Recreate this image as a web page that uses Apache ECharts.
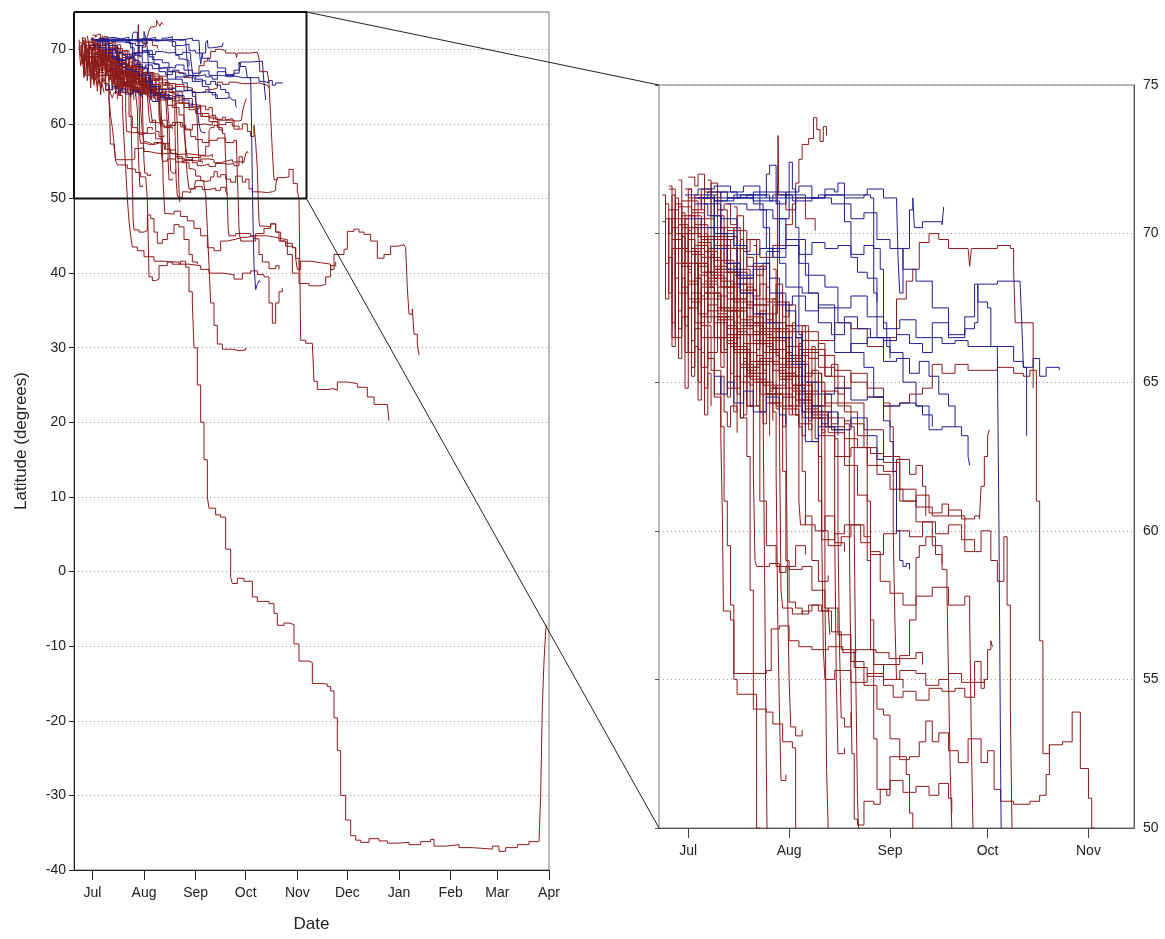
<!DOCTYPE html>
<html>
<head>
<meta charset="utf-8">
<title>Latitude tracks</title>
<script src="https://cdn.jsdelivr.net/npm/echarts@6.0.0/dist/echarts.min.js"></script>
<style>
  html, body { margin: 0; padding: 0; background: #fff; }
  #chart { width: 1165px; height: 939px; }
</style>
</head>
<body>
<div id="chart"></div>
<script>
// day 0 = 1 July; every track is a list of [day, latitude]
const MONTHS = ["Jan", "Feb", "Mar", "Apr", "May", "Jun", "Jul", "Aug", "Sep", "Oct", "Nov", "Dec"];
const BASE = Date.UTC(2010, 6, 1);
const DAY = 86400000;

// axis ranges (days from 1 July)
const leftRange = [-11, 274];      // 20 Jun .. 1 Apr
const rightRange = [-9, 137];      // 22 Jun .. 15 Nov
const zoomBox = { start: -11, end: 128.5, top: 75, bottom: 50 };

// red tracks
const red01 = [[-4,71],[-2,69.5],[0,69.8],[2,68.5],[4,67.8],[6,68.2],[8,66.5],[10,66],[12,64.8],[14,65.2],[16,63.8],[18,62.5],[19,58],[20,54],[21,50],[22,47],[23,45],[24,43.5],[27,43],[31,42.2],[37,41.6],[43,41.5],[48,41.2],[53,41.6],[56,40.8],[58,37.5],[60,36],[61,30],[63,25],[65,20],[67,15],[69,10],[70,8.5],[74,7.6],[77,7.3],[80,3],[83,-0.8],[84,-1.6],[87,-0.9],[91,-1.3],[96,-3.4],[99,-4],[106,-4.3],[109,-5.6],[111,-7.2],[115,-6.9],[118,-7.1],[121,-9.7],[124,-12],[130,-12.2],[132,-15],[138,-15.1],[141,-15.4],[143,-16],[145,-19.6],[147,-24],[149,-30],[152,-33.3],[155,-35.4],[158,-36],[161,-36.3],[166,-35.8],[172,-36.1],[177,-36.4],[183,-36.3],[190,-36.6],[197,-36.2],[203,-35.9],[205,-36.8],[212,-36.6],[220,-37],[228,-37.1],[234,-37.2],[240,-36.8],[244,-37.5],[248,-37],[255,-36.6],[262,-36.2],[268,-36.3],[269,-30],[270,-18],[271,-12],[272,-8],[272.5,-7.2]];
const red02 = [[-6,70.8],[-4,70],[-2,68.2],[0,67.5],[2,67],[4,66.5],[6,65.8],[8,64.5],[10,63.1],[10.5,60.4],[10.8,57.3],[13,57],[14,55],[15,54.5],[21,54],[24,53.9],[26,53.5],[29,52.9],[32,52.7],[33,50],[33.5,45],[34,39.5],[36,39],[38,39.2],[40,41],[45,41.5],[52,41.2],[58,41],[65,40.5],[70,40],[78,39.8],[85,39.2],[90,40],[95,40.3],[99,39.8],[103,39.5],[106,36],[108,33.3],[110,36],[112,37.5],[114,38]];
const red03 = [[-1,71.5],[1,70.2],[3,69],[6,68.5],[9,67.3],[12,66.6],[15,66.2],[18,65.5],[22,65.8],[26,64.8],[30,65.2],[34,64.4],[38,63.8],[41,63.4],[42,58],[42.5,52],[43,50],[43.5,48],[45,47.9],[49,48.3],[53,47.6],[57,47],[61,46],[65,45],[69,43.4],[73,43],[77,44.3],[81,44.5],[85,44.7],[89,44.3],[93,44.3],[98,45.3],[103,46],[107,46.6],[110,45.5],[113,44.3],[116,43.6],[119,43.4],[122,42],[123,40.5],[125,41.6],[131,41.4],[137,41.2],[143,40.5],[145,42.5],[151,43.2],[153,45.6],[157,45.9],[160,45.5],[163,45.2],[167,44.3],[171,42],[175,42.5],[179,43.6],[183,43.8],[187,43.6],[188,43.4],[189,38],[190,34.5],[192,35.2],[193,31.8],[195,30.5],[196,29]];
const red04 = [[-2,69],[1,68],[4,67.2],[8,66.5],[12,66.8],[16,65],[19,64.2],[22,61],[24,59.5],[27,58.8],[31,58.7],[35,58.8],[38,58],[42,57.4],[46,56.5],[50,55.6],[54,54.8],[58,54],[60,53.8],[62,53],[65,52.4],[67,51.8],[68,50.5],[69,46],[70,41],[71,36],[73,33],[75,30.5],[78,29.8],[84,29.6],[88,29.7],[92,30]];
const red05 = [[-3,70.3],[0,69],[3,68.6],[6,67.8],[10,67.5],[15,66.8],[20,67],[25,66.5],[30,66.2],[35,66.7],[40,66.4],[45,67],[50,66.8],[55,66.2],[60,66.5],[64,67.8],[67,68.4],[69,68.8],[71,69.7],[74,70],[77,69.8],[80,69.5],[86,69.5],[86.5,68.9],[87,69.5],[95,69.6],[99,69.5],[100,68.8],[100.5,67],[105,67],[106,65.4],[107,61],[108,56.3],[109,52.5],[111,52.8],[115,52.9],[118,53.9],[120.5,52],[123,51],[124,50],[125,31],[128,30.6],[132,30.8],[133,25.5],[135,24.4],[141,24.5],[145,24.3],[147,25.4],[153,25.2],[159,24.7],[165,23.4],[169,22.4],[177,22.3],[178,20.2]];
const red06 = [[-5,70.5],[-2,70],[1,70.8],[4,71.5],[7,70.6],[10,70.2],[14,69.5],[18,69.8],[22,69.2],[26,69.6],[30,70.3],[32,71],[33,71.7],[34,72.5],[35,73],[37,73.2],[38.5,73.9],[39.5,73.5],[40.5,73.1],[41.5,73.6],[42.5,73.3]];
const red07 = [[2,70.3],[6,69.2],[10,68.4],[14,67],[18,66.6],[22,66.8],[26,67.3],[27.4,71.2],[27.6,73.3],[27.8,71.3],[30,70.8],[33,71.2],[36,70.5],[39,70.1]];
const red08 = [[-7,70.5],[-6,68],[-5,69.5],[-4,66.5],[-2,67.2],[0,66],[2,66.8],[4,65.5],[6,66],[8,64.6],[10,65.2],[11,64],[12,63.5],[13,64.2],[15,63.3]];
const red09 = [[-6,71.5],[-4,69.5],[-2,70.2],[0,68.3],[3,68.9],[6,67.4],[9,67.9],[12,66.3],[15,66.7],[18,65.4],[21,65.9],[23,64],[23.5,58],[24,52],[24.5,47],[25,45.8],[28,45.5],[31,45.7],[33,47.8],[35,47.3],[37,45.5],[39,44],[42,44.5],[45,45.3],[49,46.5],[52,46.2],[55,44.5],[58,42.5],[60,41.5],[63,41.2]];
const red10 = [[0,70.6],[4,69.8],[8,68.9],[12,68.2],[16,67.1],[20,66.4],[24,65.7],[28,65.1],[32,64.7],[36,64.1],[40,63.8],[44,63.4],[48,63.7],[50,63.5],[51,60],[51.5,55],[52,51],[52.5,49.5]];
const red11 = [[3,71.2],[8,69.6],[13,68.3],[18,67.2],[23,66.4],[28,65.3],[33,64.6],[38,64],[43,63.5],[48,63.1],[52,62.8],[56,62.6],[60,62.5],[65,61],[70,60.3],[75,59.5],[78,58.7],[79.5,58],[80,55],[80.5,52],[81,50],[81.5,46],[82,45],[86,45.3],[90,45.3],[95,45],[100,45],[105,44.8],[110,44.6],[114,44.5],[117,42.5],[120,40],[124,38.6],[130,38.3],[137,38.5],[140,39.5],[143,41],[146,41.5]];
const red12 = [[-1,70],[4,68.7],[9,67.2],[14,66.1],[19,65.3],[24,64.6],[29,64.1],[34,63.6],[38,63],[40,61],[41,59.7],[45,59.9],[48,60.2],[54,59.8],[56,59.3],[59,58.3],[62,57.9],[66,57.5],[70,57.8],[75,58.1],[80,57.5],[85,57.8],[86.5,57],[87,53],[87.5,50],[88,46],[88.5,44.8],[93,45],[97,44.6],[100,42.5],[102,41.5],[106,40.6],[110,41],[112,40.5]];
const red13 = [[6,70.2],[11,69],[16,68.1],[21,67.3],[26,66.8],[31,65.9],[36,65.3],[41,64.7],[46,64.2],[50,63.6],[54,62.8],[58,61.9],[62,61.4],[66,61],[70,61.2],[74,60.6],[78,60.9],[80,60.5],[85,59.3],[90,60],[93,59],[95,58.3],[97,59.8],[98,57.5],[99,54],[99.5,50],[100,47],[100.5,46.3],[104,46.2],[107,46.6],[110,45.5],[112,44.3],[116,44],[120,43.4],[122,42],[124,40.2]];
const red14 = [[8,69.1],[14,67.7],[20,66.6],[26,65.6],[32,64.9],[38,64.2],[44,63.8],[48,63.6],[49.5,60],[50,55],[50.3,52.5],[51,50.3],[52,50.1],[54,50.9],[57,50.8],[59,51.3],[61,51.1],[62,52.4],[65,52.3],[68,52.4],[71,52.9],[73,53.6],[75,52.9],[77,53.2],[80,52.6],[83,52.2],[86,53],[90,52.2],[92,52.6],[94,51.3],[96,50.9],[100,50.8],[105,50.9],[108,51.1],[110,51.8],[111,52.8]];
const red15 = [[12,68.7],[18,67.6],[24,66.5],[30,65.7],[36,65],[42,64.3],[48,64],[52,63.2],[55,61],[56,56],[57,53],[58,51.3],[62,51.6],[66,51.2],[70,51.4],[74,51.1],[77,51.5],[80,51],[81,50.5]];
const red16 = [[1,70.7],[5,69.4],[9,68.2],[13,67.4],[17,66.3],[21,65.6],[25,64.8],[28,63.5],[28.5,58],[29,57.4],[32,57.2],[35,57.3],[38,57.5],[41,57.3],[44,56.6],[47,56],[51,55.4],[55,55.1],[60,55],[65,55.3],[70,55.2],[73,54.8],[77,55],[80,55.2],[84,54.9],[88,55.6],[90,54.7],[91,55],[92,56],[93,56.3],[93.5,56.1]];
const red17 = [[-2,71.1],[3,69.9],[8,68.8],[13,67.8],[18,66.9],[23,66],[28,65.3],[33,64.4],[38,63.9],[43,63.3],[48,62.2],[52,61.2],[55,59],[56,57],[57,55.5],[60,54.8],[63,54.4],[66,54.6],[70,54.3],[74,54.7],[78,54.6],[82,54.7],[85,54.4],[88,54.9],[91,55]];
const red18 = [[-5,69.8],[-2,68.9],[1,67.7],[4,66.9],[7,65.4],[10,63.5],[11,61],[12,59.5],[13,57.5],[14,55.2],[24,55.3],[25.5,56.7],[28,56.8],[31,56.3],[34,56.1],[38,56],[43,56.1],[47.5,55.9],[51.5,56],[57.7,55.9],[61.7,55.7],[67,55.7],[70,55.9],[72,55.5]];
const red19 = [[3,69.7],[7,68.6],[11,67.4],[15,66.6],[19,65.7],[23,64.9],[27,64.2],[29,62],[30,59],[31,57.6],[33,57.4],[35,57.2],[37,57.5],[40,57.3],[43,57.4],[43.5,56.5]];
const red20 = [[-3,70.9],[1,69.5],[5,68.4],[9,67.2],[13,66.2],[17,65.2],[20,62],[20.5,59],[21,58.8],[25,58.9],[28,58.6],[30,58.8],[33,59.5],[36,59.2]];
const red21 = [[5,71.4],[10,69.9],[15,68.5],[20,67.6],[25,66.7],[30,65.5],[35,64.7],[40,62.5],[41,60],[43,59.5],[47,59.8],[50,60.2],[53,59.6],[56,59.2],[60,59.9],[64,60],[68,59.8],[72,60.3],[76,59.9],[80,60.2],[84,59.7],[88,59.3]];
const red22 = [[0,71.2],[5,69.9],[10,68.7],[15,67.5],[20,66.7],[25,66.1],[30,65.8],[35,66],[40,65.5],[45,64.8],[50,65.3],[55,64.5],[60,64.2],[65,64.3],[68,64.6],[72,64.8],[75,65.6],[78,65.3],[82,65.6],[86,65.4],[90,65.4],[95,65.5],[100,65.3],[103,65.2],[105,65.4],[106,64.8]];
const red23 = [[-1,69.4],[4,68.3],[9,67.1],[14,66],[19,65.1],[24,64.6],[29,64.2],[35,64],[40,63.2],[45,62.5],[50,62.8],[55,62.2],[60,62],[64,62.4],[68,61.9],[70,62.2],[72,61.5],[73,60.5]];
const red24 = [[-8,71.3],[-7,69],[-6,70.5],[-5,67],[-4,69.8],[-3,66.8],[-2,68.5],[-1,66],[0,67.5],[1,65.5],[2,66.2],[3,65],[4,66],[5,64.8],[6,65.3],[7,64.2]];
const red25 = [[-7,71],[-6,70],[-5,71.3],[-4,68.5],[-3,70],[-2,69],[-1,70.5],[0,68.8],[1,69.5],[2,67.5],[3,68.5],[4,67],[5,68],[6,66.5],[8,67.2],[10,66],[12,66.4],[14,64.8],[16,65.5],[18,64.2],[20,64.8]];
const red26 = [[-3,71.8],[-2,70.5],[0,71.5],[1,70],[2,71.3],[4,70.8],[5,68.7],[6,69.5],[8,68.8],[10,69.5],[12,68],[14,68.6],[16,67.8],[18,68.2],[20,67],[22,67.4],[24,66.2],[26,66.8],[28,65.5],[30,66],[32,65.2],[34,65.6],[36,64.5],[38,65]];
const red27 = [[0,71.9],[2,71.6],[3,72],[5,71.2],[7,71.7],[9,70.8],[11,71],[13,70.3],[15,70.6],[17,69.4],[19,69.8],[21,68.6],[23,69],[25,67.8],[27,68.3],[29,67.2],[31,67.6],[33,66.5],[35,66.9],[37,65.8],[40,66.3],[42,65.2],[44,65.6],[46,64.6],[48,65]];
const red28 = [[5,70],[6,67],[7,69.3],[8,66],[9,68],[10,65.5],[11,67.2],[12,64.5],[13,66.5],[14,64],[15,66],[16,63.8],[17,65.7],[18,64.2],[20,65.5],[22,64],[24,65],[26,63.7]];
const red29 = [[10,70.8],[12,69.8],[14,70.2],[16,68.8],[18,69.2],[20,67.9],[22,68.3],[24,67.1],[26,67.6],[28,66.4],[30,66.9],[32,65.8],[34,66.1],[36,65.2],[38,65.4],[40,64.2],[42,64.6],[44,63.6],[46,64]];
const red30 = [[-5,70.2],[-3,68],[0,68.4],[3,67.3],[6,67.6],[9,66.5],[12,66.9],[15,66],[18,65.3],[21,65.7],[24,64.6],[27,64.9],[30,64],[30.5,58],[31,55],[31.5,53.4],[33,53.1],[35,53.3]];
const red31 = [[2,69.6],[6,68.7],[10,68.2],[14,67.4],[18,67],[22,66.3],[26,65.4],[30,64.8],[34,64.3],[38,63.8],[42,63.5],[45,63.1],[46,60],[46.5,56],[47,53.7],[48,53.4],[50,53.9]];
const red32 = [[-4,69],[0,67.8],[4,68.2],[8,67],[12,66.5],[16,65.6],[20,65],[24,64.3],[28,64.6],[32,63.9],[34,63.5],[35,62],[36,60.2],[39,60],[42,60.5],[45,59.6],[48,59.3]];
const red33 = [[0,70.2],[4,69.2],[8,68.5],[12,67.8],[16,66.9],[20,66.3],[24,66],[28,65.2],[32,64.9],[36,64.2],[40,63.8],[41,60],[41.5,56],[42,55],[45,55.3],[50,54.9],[55,55.2],[60,55.5],[65,55.8],[68,57],[70,59.1],[71,59.5],[73,59.8],[76,59.2],[78,58.9]];
const red34 = [[-2,70.6],[2,69],[6,68],[10,67.4],[14,66.1],[18,65.2],[22,64.6],[26,64],[27,62],[27.5,57],[28,54],[28.5,51.6],[30,51.8]];
const red35 = [[1,69.3],[5,68],[9,67.5],[13,66.6],[17,66],[21,65],[25,64.3],[29,64.5],[33,63.9],[34,61],[34.5,60.2],[36,60.5],[38,59],[40,58.3],[43,58.5]];
const red36 = [[4,70.5],[8,69.8],[12,68.7],[16,68],[20,67],[24,66.5],[28,65.8],[32,65.2],[36,64.6],[40,64],[44,63.4],[45,60],[45.5,55],[46,52.5],[48,52.7]];
const red37 = [[10,69.5],[15,68.3],[20,67.8],[25,67],[30,66.7],[35,66.4],[40,65.9],[45,65.4],[50,65],[55,64.8],[60,64.3],[62,63.5],[63,60],[63.5,57],[64,55],[66,54.7]];
const red38 = [[12,70.1],[18,68.9],[24,67.7],[30,66.9],[36,66.1],[42,65.2],[48,64.3],[54,63.4],[60,62.3],[65,61.4],[70,60.8],[75,60.5],[80,60.7],[84,60.4],[88,60.5],[89.5,60.4],[90,61.5],[91,62.5],[92,63.2],[92.5,63.4]];
const red39 = [[-6,71.6],[-5,66.5],[-4,70.8],[-3,65.8],[-2,69.9],[-1,64.8],[0,68.7],[1,65.2],[2,69.4],[3,64.4],[4,67.9],[5,63.9],[6,66.8]];
const red40 = [[6,71.8],[7,68.2],[8,71.3],[9,67.4],[10,70.6],[11,66.1],[12,69.8],[13,65.3],[14,68.9],[15,64.6],[16,67.5],[17,63.9],[18,66.2]];
const red41 = [[14,70.9],[15,67.2],[16,69.8],[17,65.8],[18,68.8],[19,64.9],[20,68.1],[21,64.2],[22,67.3],[23,63.6],[24,66.4],[25,63.2]];
const red42 = [[20,69.6],[21,66.1],[22,68.9],[23,65.4],[24,68.2],[25,64.7],[26,67.8],[27,64.1],[28,67],[29,63.5],[30,66.5],[31,63.9],[32,65.7]];
const red43 = [[26,68.8],[27,65.9],[28,68],[29,65.1],[30,67.7],[31,64.2],[32,67],[33,63.9],[34,66.3],[35,63.2],[36,65.6],[37,63.7],[38,65]];
const red44 = [[-8,70.4],[-7,67.8],[-6,69.2],[-5,66.2],[-4,71.2],[-3,67.4],[-2,70.7],[-1,66.9],[0,70.1],[1,66.4],[2,69],[3,66.1],[4,68.4]];
const red45 = [[32,66.8],[33,64.2],[34,66.5],[35,63.8],[36,65.9],[37,63.4],[38,66.2],[39,63.1],[40,65.3],[41,63.3],[42,64.7]];

// blue tracks
const blue01 = [[4,71.3],[8,71.1],[12,71.2],[16,71.3],[20,71],[23,70.2],[25,68.5],[28,67.6],[32,67.9],[36,67.4],[40,67.6],[45,67.5],[50,67.9],[55,67.2],[60,66.8],[65,67.1],[70,66.5],[75,67],[80,66.6],[85,67.2],[88,68.3],[89,67.7],[92,67.5],[93,66.2],[95,66],[95.5,60],[96,52],[96.5,46],[97,41],[98,37.8],[99,38.5],[100,39],[101,38.8]];
const blue02 = [[6,71.2],[10,71.4],[15,71.2],[20,71.3],[25,71.1],[28,69],[30,68.2],[35,68],[40,67.5],[45,66],[50,66.3],[55,66.5],[60,66.4],[64,66.6],[68,66.3],[72,66],[75,66.5],[78,66.3],[82,66.4],[86,66.2],[90,66.2],[95,66.2],[100,65.7],[103,65.5],[106,65.8],[108,65.2],[110,65.5],[114,65.4]];
const blue03 = [[2,71.2],[6,71.4],[12,71.2],[18,71.3],[24,71.2],[30,71.3],[36,71.2],[42,71.3],[48,71.2],[54,71.3],[56,71.2],[57,68],[58,66.5],[62,66],[66,65],[70,64.2],[74,63.4],[78,63.5],[83,63.5],[84,63.2],[86,62.5],[86.5,62.2]];
const blue04 = [[8,71.1],[14,71.3],[20,71.1],[26,71.3],[32,71.1],[38,71.2],[44,71],[50,70.5],[54,70.7],[58,69.8],[62,69.5],[66,68.8],[70,68.4],[75,67.5],[80,66.5],[85,66.8],[88,67],[89,68.3],[95,68.4],[102,68.3],[102.5,67],[103,65.5],[104,63.2]];
const blue05 = [[10,71.2],[20,71.4],[30,71.2],[40,71.3],[50,71.3],[55,71.5],[60,71.2],[64,71.2],[64.5,69.1],[65,68],[66,69.5],[68,70.8],[69,71.2],[69.5,70.2],[72,70.4],[78,70.3],[78.5,70.9]];
const blue06 = [[5,71],[10,70.5],[15,68.6],[20,69],[25,68],[30,67.4],[33,66.5],[35,64],[36,63],[40,63.5],[45,63.4],[50,63.8],[55,63.2],[58,62.4],[60,63]];
const blue07 = [[12,71],[18,70.8],[24,69.5],[30,69.8],[36,68.6],[42,68.2],[46,67],[50,66],[54,65.5],[57,64.5],[60,63.7],[62,63],[63,62],[64,60],[65,59],[66,58.8],[67,58.9],[68,58.7]];
const blue08 = [[3,71.2],[8,70],[12,68.8],[16,68],[20,67.3],[24,67],[28,66.5],[32,65.6],[36,65],[40,64.6],[45,64.8],[50,64.4],[55,64.5],[60,64.2],[65,64.3],[70,64.2],[72,63.9],[75,63.5]];
const blue09 = [[-1,71.3],[3,71.5],[8,71.6],[13,71.4],[17,71.6],[22,71.2],[24,72],[25,72.3],[27,71],[30,71.4],[34,71.6],[38,71.2],[42,71.5],[45,71.4],[46,71.7],[48,70.4],[50,69.2],[52,68.7],[55,68.5],[58,67.7]];
const blue10 = [[0,70.5],[4,70.2],[8,69.5],[12,69],[16,68.5],[20,68.8],[24,69.4],[28,70.5],[31,72.4],[32,71.5],[33,70.2],[34,66.6],[35,64.8],[36,63.8],[38,64.2],[41,63.6],[43,64],[46,63.2]];
const blue11 = [[18,71.2],[22,70.8],[26,70.5],[30,69.8],[34,69],[37,68],[40,67],[44,66.6],[48,67.2],[52,66.8],[56,66.5],[60,65.7],[64,65.8],[68,65.3],[71,65.7],[74,65.2],[77,64.6],[80,64.2],[82,63.5]];
const blue12 = [[2,71],[6,70.6],[10,70],[14,69.6],[18,69.3],[22,69.5],[26,69.2],[30,69.6],[34,69.3],[38,69.7],[42,69.5],[46,69.6],[50,69.3],[54,69.6],[57,69.5],[59,68.8],[60,67],[61,66.2],[62,65.8]];
const blue13 = [[8,65.2],[10,64.6],[12,65],[14,64.3],[17,64.7],[20,64],[24,64.5],[28,63.9],[30,63.6]];

const redTracks = [red01, red02, red03, red04, red05, red06, red07, red08, red09, red10,
  red11, red12, red13, red14, red15, red16, red17, red18, red19, red20,
  red21, red22, red23, red24, red25, red26, red27, red28, red29, red30,
  red31, red32, red33, red34, red35, red36, red37, red38, red39, red40,
  red41, red42, red43, red44, red45];
const blueTracks = [blue01, blue02, blue03, blue04, blue05, blue06, blue07, blue08, blue09,
  blue10, blue11, blue12, blue13];

const RED = "#8c1a1a";
const BLUE = "#1f1f8f";
const FONT = '"Liberation Sans", Arial, sans-serif';
const TEXT = "#222";

function toTime(d) {
  return BASE + d * DAY;
}

function trackSeries(track, color, idx) {
  return {
    type: "line",
    xAxisIndex: idx,
    yAxisIndex: idx,
    data: track.map(function (p) { return [toTime(p[0]), p[1]]; }),
    step: "end",
    showSymbol: false,
    symbol: "none",
    silent: true,
    clip: true,
    lineStyle: { width: 1, color: color },
    emphasis: { disabled: true },
  };
}

function monthLabel(v) {
  return MONTHS[new Date(v).getUTCMonth()];
}

const dotted = { show: true, lineStyle: { color: "#9a9a9a", type: [1, 3], width: 1 } };

const series = [];
[0, 1].forEach(function (idx) {
  redTracks.forEach(function (t) { series.push(trackSeries(t, RED, idx)); });
  blueTracks.forEach(function (t) { series.push(trackSeries(t, BLUE, idx)); });
});

// zoom rectangle on the left panel
series.push({
  type: "line",
  xAxisIndex: 0,
  yAxisIndex: 0,
  data: [
    [toTime(zoomBox.start), zoomBox.top],
    [toTime(zoomBox.end), zoomBox.top],
    [toTime(zoomBox.end), zoomBox.bottom],
    [toTime(zoomBox.start), zoomBox.bottom],
    [toTime(zoomBox.start), zoomBox.top],
  ],
  showSymbol: false,
  symbol: "none",
  silent: true,
  clip: false,
  z: 10,
  lineStyle: { width: 2, color: "#111" },
});

const chart = echarts.init(document.getElementById("chart"));

const option = {
  animation: false,
  useUTC: true,
  backgroundColor: "#fff",
  textStyle: { fontFamily: FONT, color: TEXT },
  grid: [
    { left: 74, top: 12, width: 475, height: 858, show: true, borderColor: "#777", borderWidth: 1 },
    { left: 659, top: 85, width: 475, height: 743, show: true, borderColor: "#777", borderWidth: 1 },
  ],
  xAxis: [
    {
      type: "time",
      gridIndex: 0,
      min: toTime(leftRange[0]),
      max: toTime(leftRange[1]),
      splitNumber: 10,
      minInterval: 28 * DAY,
      maxInterval: 31 * DAY,
      axisLine: { onZero: false, lineStyle: { color: "#222", width: 1 } },
      axisTick: { show: true, length: 10, lineStyle: { color: "#222" } },
      axisLabel: { formatter: monthLabel, fontSize: 14, color: TEXT, margin: 16, fontFamily: FONT },
      splitLine: { show: false },
      name: "Date",
      nameLocation: "middle",
      nameGap: 46,
      nameTextStyle: { fontSize: 17, color: TEXT, fontFamily: FONT },
    },
    {
      type: "time",
      gridIndex: 1,
      min: toTime(rightRange[0]),
      max: toTime(rightRange[1]),
      splitNumber: 6,
      minInterval: 28 * DAY,
      maxInterval: 31 * DAY,
      axisLine: { onZero: false, lineStyle: { color: "#555", width: 1 } },
      axisTick: { show: true, length: 10, lineStyle: { color: "#444" } },
      axisLabel: { formatter: monthLabel, fontSize: 14, color: TEXT, margin: 16, fontFamily: FONT },
      splitLine: { show: false },
    },
  ],
  yAxis: [
    {
      type: "value",
      gridIndex: 0,
      min: -40,
      max: 75,
      interval: 10,
      axisLine: { show: true, onZero: false, lineStyle: { color: "#222" } },
      axisTick: { show: true, length: 5, lineStyle: { color: "#222" } },
      axisLabel: { fontSize: 14, color: TEXT, margin: 8, showMaxLabel: false, fontFamily: FONT },
      splitLine: dotted,
      name: "Latitude (degrees)",
      nameLocation: "middle",
      nameGap: 44,
      nameTextStyle: { fontSize: 17, color: TEXT, fontFamily: FONT },
    },
    {
      type: "value",
      gridIndex: 1,
      position: "right",
      min: 50,
      max: 75,
      interval: 5,
      axisLine: { show: true, onZero: false, lineStyle: { color: "#555" } },
      axisTick: { show: false },
      axisLabel: { fontSize: 14, color: TEXT, margin: 9, fontFamily: FONT },
      splitLine: dotted,
    },
    {
      // small tick marks on the left edge of the enlarged panel
      type: "value",
      gridIndex: 1,
      position: "left",
      min: 50,
      max: 75,
      interval: 5,
      axisLine: { show: false, onZero: false },
      axisTick: { show: true, length: 4, lineStyle: { color: "#555" } },
      axisLabel: { show: false },
      splitLine: { show: false },
    },
  ],
  series: series,
};

option && chart.setOption(option);

// lines joining the zoom rectangle to the enlarged panel
const boxTopRight = chart.convertToPixel({ gridIndex: 0 }, [toTime(zoomBox.end), zoomBox.top]);
const boxBottomRight = chart.convertToPixel({ gridIndex: 0 }, [toTime(zoomBox.end), zoomBox.bottom]);
const panelTopLeft = chart.convertToPixel({ gridIndex: 1 }, [toTime(rightRange[0]), zoomBox.top]);
const panelBottomLeft = chart.convertToPixel({ gridIndex: 1 }, [toTime(rightRange[0]), zoomBox.bottom]);

chart.setOption({
  graphic: [
    {
      type: "line",
      silent: true,
      z: 20,
      shape: { x1: boxTopRight[0], y1: boxTopRight[1], x2: panelTopLeft[0], y2: panelTopLeft[1] },
      style: { stroke: "#222", lineWidth: 1 },
    },
    {
      type: "line",
      silent: true,
      z: 20,
      shape: { x1: boxBottomRight[0], y1: boxBottomRight[1], x2: panelBottomLeft[0], y2: panelBottomLeft[1] },
      style: { stroke: "#222", lineWidth: 1 },
    },
  ],
});
</script>
</body>
</html>
